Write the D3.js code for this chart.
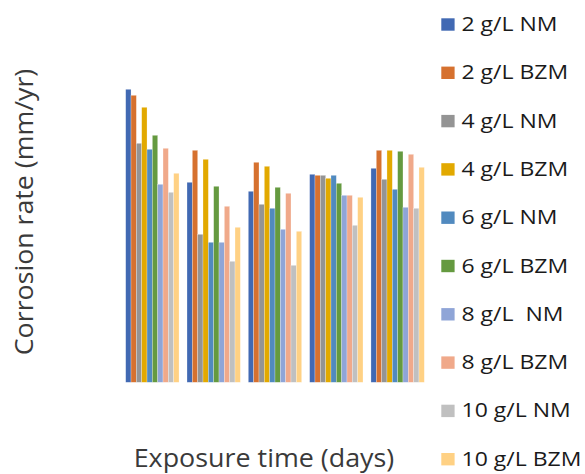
<!DOCTYPE html>
<html>
<head>
<meta charset="utf-8">
<script src="https://cdn.jsdelivr.net/npm/d3@7/dist/d3.min.js"></script>
<style>
  html, body { margin: 0; padding: 0; background: #ffffff; }
  svg { display: block; }
  text { font-family: "Open Sans", Lato, sans-serif; }
</style>
</head>
<body>
<script>
// Exposure periods (five groups, no tick labels shown on the axis)
const categories = ["P1", "P2", "P3", "P4", "P5"];

// Inhibitor concentration / type series
const seriesNames = [
  "2 g/L NM", "2 g/L BZM", "4 g/L NM", "4 g/L BZM", "6 g/L NM",
  "6 g/L BZM", "8 g/L  NM", "8 g/L BZM", "10 g/L NM", "10 g/L BZM"
];

// Corrosion rate per series, one value per exposure period (relative units)
const s2NM    = [0.293, 0.200, 0.191, 0.208, 0.214];
const s2BZM   = [0.287, 0.232, 0.220, 0.207, 0.232];
const s4NM    = [0.239, 0.148, 0.178, 0.207, 0.203];
const s4BZM   = [0.275, 0.223, 0.216, 0.204, 0.232];
const s6NM    = [0.233, 0.140, 0.174, 0.207, 0.193];
const s6BZM   = [0.247, 0.196, 0.195, 0.199, 0.231];
const s8NM    = [0.198, 0.140, 0.153, 0.187, 0.175];
const s8BZM   = [0.234, 0.176, 0.189, 0.187, 0.228];
const s10NM   = [0.190, 0.121, 0.117, 0.157, 0.174];
const s10BZM  = [0.209, 0.155, 0.151, 0.185, 0.215];

const seriesValues = [s2NM, s2BZM, s4NM, s4BZM, s6NM, s6BZM, s8NM, s8BZM, s10NM, s10BZM];

const colors = [
  "#4169B3", "#D6712F", "#949494", "#E2A900", "#518ABF",
  "#659A40", "#8FA5D7", "#F0A98A", "#C0C0C0", "#FFD184"
];

const W = 585, H = 474;
const svg = d3.select("body").append("svg")
  .attr("width", W).attr("height", H);

// Scales
const x0 = d3.scaleBand()
  .domain(categories)
  .range([121.7, 428.3])
  .paddingInner(0.13)
  .paddingOuter(0.065);

const x1 = d3.scaleBand()
  .domain(seriesNames)
  .range([0, x0.bandwidth()])
  .padding(0);

const y = d3.scaleLinear()
  .domain([0, 0.3])
  .range([382.3, 82.3]);

// Bars
const rows = [];
categories.forEach((c, ci) => {
  seriesNames.forEach((s, si) => {
    rows.push({ cat: c, series: s, value: seriesValues[si][ci], color: colors[si] });
  });
});

svg.append("g")
  .selectAll("rect")
  .data(rows)
  .join("rect")
  .attr("x", d => x0(d.cat) + x1(d.series))
  .attr("y", d => y(d.value))
  .attr("width", x1.bandwidth())
  .attr("height", d => y(0) - y(d.value))
  .attr("fill", d => d.color)
  .attr("stroke", "#ffffff")
  .attr("stroke-opacity", 0.5)
  .attr("stroke-width", 0.5);

// Axis titles (slightly widened to a condensed-face proportion)
svg.append("text")
  .attr("transform", "translate(264,467) scale(1.075,1)")
  .attr("text-anchor", "middle")
  .attr("fill", "#3a3a3a")
  .style("font-size", "25px")
  .text("Exposure time (days)");

svg.append("text")
  .attr("transform", "translate(33,212) rotate(-90) scale(1.07,1)")
  .attr("text-anchor", "middle")
  .attr("fill", "#3a3a3a")
  .style("font-size", "25px")
  .text("Corrosion rate (mm/yr)");

// Legend
const legend = svg.append("g")
  .selectAll("g")
  .data(seriesNames)
  .join("g")
  .attr("transform", (d, i) => `translate(441.3,${24.5 + i * 48.3})`);

legend.append("rect")
  .attr("x", 0)
  .attr("y", -6.2)
  .attr("width", 13.3)
  .attr("height", 12.4)
  .attr("fill", (d, i) => colors[i]);

legend.append("text")
  .attr("transform", "translate(20.2,6.5) scale(1.15,1)")
  .attr("fill", "#1a1a1a")
  .style("font-size", "20px")
  .style("white-space", "pre")
  .attr("xml:space", "preserve")
  .text(d => d);
</script>
</body>
</html>
